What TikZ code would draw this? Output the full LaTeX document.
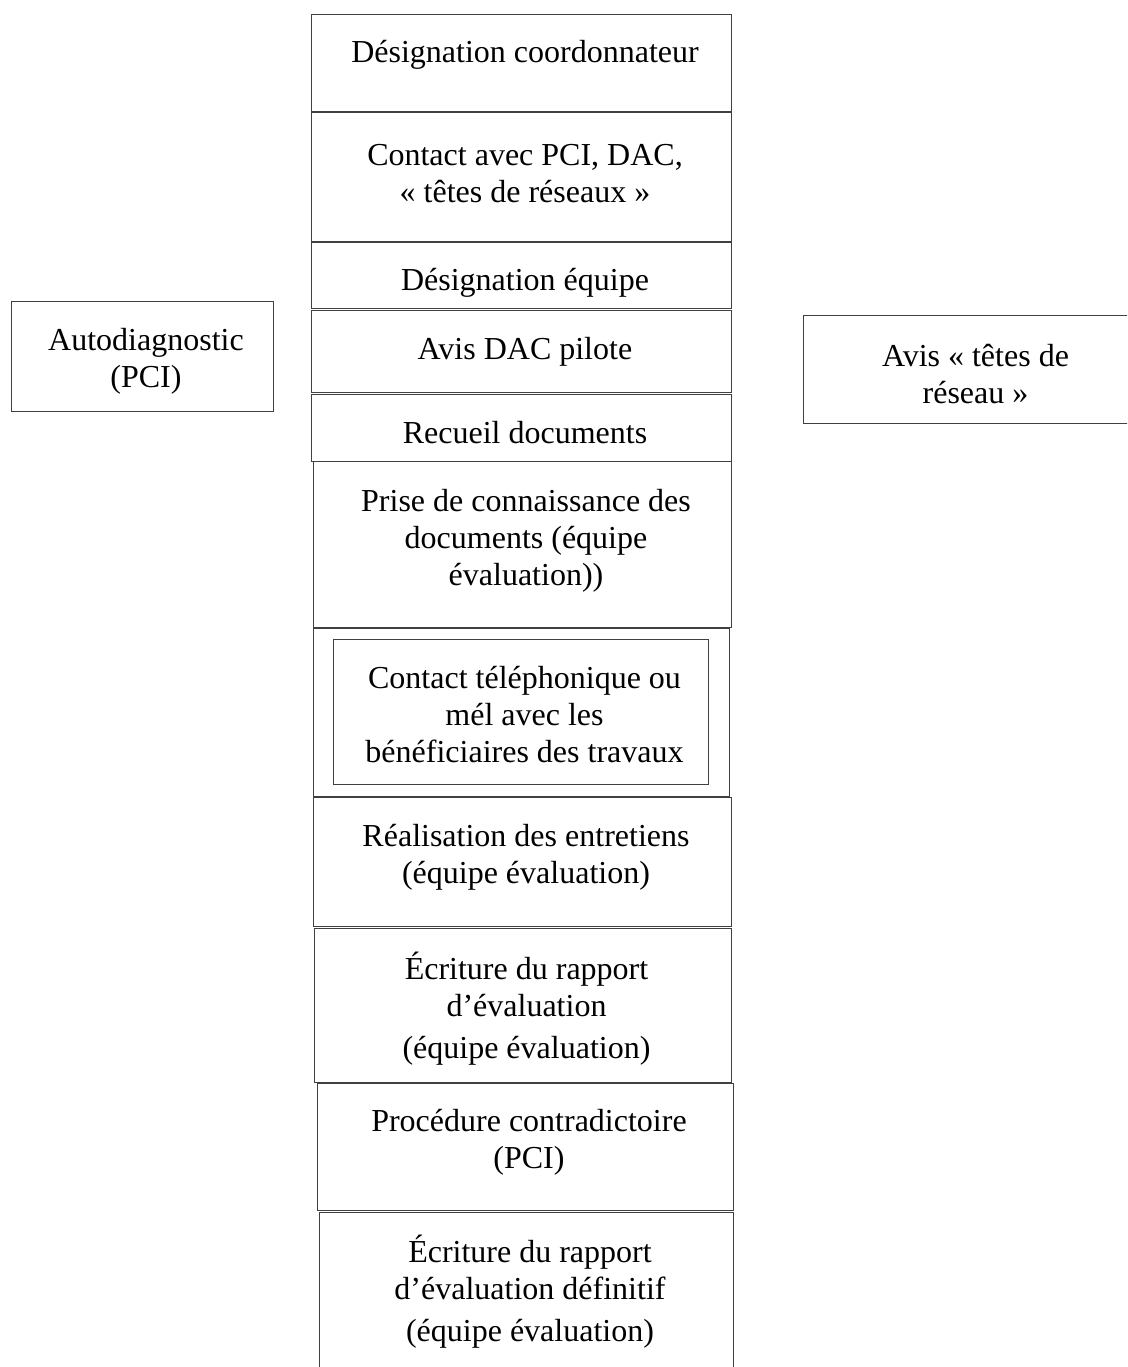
\documentclass[tikz,border=0pt]{standalone}
\usepackage{fontspec}
\setmainfont{Liberation Serif}
\usepackage{tikz}

\begin{document}
\begin{tikzpicture}[x=1pt, y=-1pt,
            every node/.style = {inner sep = 0pt,
                                outer sep = 0pt},
            boite/.style      = {draw       = black!75,
                                line width = 1pt,
                                anchor     = north west},
            texte/.style      = {font   = \fontsize{32}{37}\selectfont,
                                align  = center,
                                anchor = base}
            ]
            \newcommand{\etape}[7]{%
                \node [boite,
                    minimum width  = {(#4-#2)*1pt},
                    minimum height = {(#5-#3)*1pt}] (#1) at (#2,#3) {};
                \node [texte] (#1 texte) at ({(#2+#4)/2+4},#6) {#7};
            }
            \useasboundingbox (0,0) rectangle (1127,1367);
            \clip (0,0) rectangle (1127,1367);

            \etape{coordonnateur}{311}{15}{731}{112}{63}{Désignation coordonnateur}
            \etape{contact}{311}{113}{731}{241}{203}{Contact avec PCI, DAC,\\ « têtes de réseaux »}
            \etape{equipe}{311}{242}{731}{308}{290}{Désignation équipe}
            \etape{avisdac}{311}{310}{731}{392}{359}{Avis DAC pilote}
            \etape{recueil}{311}{394}{731}{461}{443}{Recueil documents}
            \etape{prise}{313}{461}{731}{627}{585}{Prise de connaissance des\\ documents (équipe\\ évaluation))}
            \node [boite,
                minimum width  = 416pt,
                minimum height = 168pt] (telephone) at (313,628) {};
            \etape{mel}{333}{639}{708}{784}{762}{Contact téléphonique ou\\ mél avec les\\ bénéficiaires des travaux}
            \etape{entretiens}{313}{797}{731}{926}{883}{Réalisation des entretiens\\ (équipe évaluation)}
            \etape{rapport}{314}{928}{731}{1082}{1058}{Écriture du rapport\\ d’évaluation\\[5pt] (équipe évaluation)}
            \etape{contradictoire}{317}{1083}{733}{1210}{1168}{Procédure contradictoire\\ (PCI)}
            \etape{definitif}{319}{1212}{733}{1390}{1341}{Écriture du rapport\\ d’évaluation définitif\\[5pt] (équipe évaluation)}

            \etape{autodiag}{11}{301}{273}{411}{387}{Autodiagnostic\\ (PCI)}
            \etape{avisreseau}{803}{315}{1140}{423}{403}{Avis « têtes de\\ réseau »}
\end{tikzpicture}
\end{document}
